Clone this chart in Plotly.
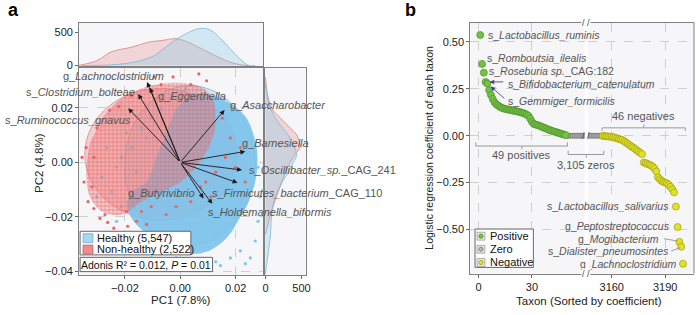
import plotly.graph_objects as go

W, H = 700, 315
def fx(p): return p / W
def fy(p): return 1 - p / H

FONT = "Liberation Sans, Arial, Helvetica, sans-serif"
TXT = "#555555"
BLUE = "#7ec4ea"
RED = "#ec6262"

# ================= Panel a : PCoA =================
group_names = ["Healthy (5,547)", "Non-healthy (2,522)"]
adonis_text = "Adonis R² = 0.012, <i>P</i> = 0.01"

# outline of the dense core of the Healthy cloud (PC1, PC2)
healthy_core_pc1 = [0.0038, 0.0110, 0.0181, 0.0235, 0.0263, 0.0278, 0.0274, 0.0253, 0.0217, 0.0174, 0.0117,
                    0.0056, -0.0015, -0.0076, -0.0133, -0.0176, -0.0194, -0.0176, -0.0122, -0.0087, -0.0051, -0.0015]
healthy_core_pc2 = [0.0252, 0.0245, 0.0216, 0.0169, 0.0108, 0.0036, -0.0054, -0.0126, -0.0198, -0.0270, -0.0317,
                    -0.0335, -0.0324, -0.0288, -0.0252, -0.0205, -0.0155, -0.0108, -0.0072, 0.0018, 0.0108, 0.0198]
# outline of the dense region of Non-healthy points
nonhealthy_core_pc1 = [-0.0283, -0.0212, -0.0122, -0.0015, 0.0074, 0.0117, 0.0128, 0.0103, 0.0056, 0.0002,
                       -0.0069, -0.0140, -0.0212, -0.0283, -0.0326, -0.0340, -0.0326]
nonhealthy_core_pc2 = [0.0162, 0.0234, 0.0277, 0.0292, 0.0277, 0.0234, 0.0144, 0.0054, -0.0018, -0.0072,
                       -0.0108, -0.0144, -0.0191, -0.0180, -0.0126, -0.0036, 0.0072]

# individual (sparser) samples
healthy_pts_pc1 = [0.0253, 0.0217, 0.0181, 0.0128, 0.0092, 0.0056, 0.0020, -0.0015, -0.0051, -0.0105, -0.0140,
                   0.0271, 0.0281, 0.0288, 0.0281, -0.0212, -0.0248, -0.0283, -0.0301, -0.0230, -0.0183, -0.0147,
                   -0.0105, 0.0074, 0.0145, 0.0235, -0.0105, -0.0140, -0.0069, -0.0033, -0.0176, -0.0122, -0.0212,
                   -0.0230, -0.0158, 0.0002, -0.0087, -0.0194, -0.0265, 0.0020]
healthy_pts_pc2 = [-0.0350, -0.0324, -0.0350, -0.0364, -0.0371, -0.0360, -0.0371, -0.0350, -0.0335, -0.0306, -0.0281,
                   -0.0288, -0.0216, -0.0126, -0.0018, -0.0162, -0.0108, -0.0054, -0.0126, -0.0216, -0.0270, -0.0324,
                   -0.0350, -0.0386, -0.0378, -0.0371, 0.0162, 0.0126, 0.0198, 0.0234, 0.0054, 0.0090, 0.0018,
                   -0.0018, -0.0036, 0.0252, 0.0234, 0.0108, 0.0054, 0.0270]
nonhealthy_pts_pc1 = [-0.0026, 0.0095, 0.0038, -0.0069, 0.0067, -0.0094, -0.0176, -0.0222, -0.0255, -0.0301, -0.0340,
                      -0.0355, -0.0312, -0.0348, -0.0319, -0.0333, -0.0312, -0.0290, -0.0262, -0.0240, -0.0219, -0.0190,
                      -0.0272, -0.0140, -0.0105, -0.0158, -0.0194, 0.0092, 0.0128, 0.0163, 0.0181, 0.0152, 0.0199,
                      0.0110, 0.0038, -0.0015, -0.0051, 0.0074, 0.0217, 0.0235, -0.0176, -0.0122]
nonhealthy_pts_pc2 = [0.0313, 0.0299, 0.0285, 0.0285, 0.0324, 0.0313, 0.0245, 0.0205, 0.0191, 0.0126, 0.0054,
                      0.0018, 0.0018, -0.0072, -0.0090, -0.0144, -0.0169, -0.0205, -0.0220, -0.0241, -0.0263, -0.0234,
                      -0.0191, -0.0180, -0.0162, -0.0216, -0.0180, -0.0072, -0.0036, 0.0018, 0.0090, 0.0162, -0.0018,
                      -0.0126, -0.0144, -0.0162, -0.0191, -0.0090, 0.0054, -0.0072, -0.0270, -0.0227]

# 95% ellipses: centre and half-axes (Healthy, Non-healthy)
ell_cx = [0.0035, -0.0070]
ell_cy = [-0.0011, 0.0030]
ell_rx = [0.0236, 0.0275]
ell_ry = [0.0292, 0.0241]

# marginal densities (counts)
top_h_pc1 = [-0.0355, -0.0255, -0.0176, -0.0099, -0.0063, -0.0015, 0.0032, 0.0062, 0.0092, 0.0116, 0.0151, 0.0187, 0.0223, 0.0246, 0.0270]
top_h_cnt = [0, 10, 45, 138, 245, 393, 500, 550, 555, 515, 382, 221, 74, 5, 0]
top_nh_pc1 = [-0.0372, -0.0301, -0.0254, -0.0230, -0.0182, -0.0111, -0.0063, -0.0015, 0.0032, 0.0080, 0.0128, 0.0175, 0.0223, 0.0246]
top_nh_cnt = [0, 74, 197, 231, 270, 353, 378, 403, 344, 245, 147, 59, 10, 0]
right_h_pc2 = [0.0288, 0.0228, 0.0192, 0.0150, 0.0114, 0.0078, 0.0042, 0.0024, 0.0, -0.0036, -0.0072, -0.0120, -0.0168, -0.0216, -0.0264, -0.0324, -0.0372, -0.0410]
right_h_cnt = [0, 35, 79, 167, 276, 364, 421, 430, 386, 320, 232, 145, 101, 79, 70, 43, 17, 0]
right_nh_pc2 = [0.0312, 0.0240, 0.0192, 0.0162, 0.0126, 0.0102, 0.0072, 0.0054, 0.0036, 0.0, -0.0036, -0.0084, -0.0132, -0.0180, -0.0228, -0.0263]
right_nh_cnt = [0, 35, 101, 210, 342, 430, 474, 480, 430, 342, 276, 210, 145, 79, 35, 0]

# biplot loadings
arrow_taxa = ["g_<i>Lachnoclostridium</i>", "s_<i>Clostridium_bolteae</i>", "g_<i>Eggerthella</i>",
              "s_<i>Ruminococcus_gnavus</i>", "g_<i>Asaccharobacter</i>", "g_<i>Barnesiella</i>",
              "s_<i>Oscillibacter_sp.</i>_CAG_241", "s_<i>Firmicutes_bacterium</i>_CAG_110",
              "g_<i>Butyrivibrio</i>", "s_<i>Holdemanella_biformis</i>"]
arrow_pc1 = [-0.0120, -0.0152, -0.0110, -0.0188, 0.0160, 0.0235, 0.0223, 0.0207, 0.0084, 0.0116]
arrow_pc2 = [0.0294, 0.0250, 0.0274, 0.0198, 0.0192, 0.0040, -0.0028, -0.0075, -0.0132, -0.0152]
label_pc1 = [-0.0052, -0.0158, -0.0087, -0.0170, 0.0173, 0.0217, 0.0241, 0.0107, 0.0062, 0.0092]
label_pc2 = [0.0318, 0.0258, 0.0244, 0.0156, 0.0210, 0.0070, -0.0028, -0.0111, -0.0111, -0.0180]
label_anchor = ["right", "right", "left", "right", "left", "left", "left", "left", "right", "left"]

# ================= Panel b : logistic regression =================
pos_coef = [0.537, 0.383, 0.336, 0.287, 0.278, 0.243, 0.217, 0.196, 0.179, 0.168, 0.161, 0.154, 0.149, 0.146,
            0.143, 0.141, 0.139, 0.137, 0.135, 0.133, 0.131, 0.129, 0.127, 0.124, 0.121, 0.118, 0.113, 0.106,
            0.092, 0.075, 0.063, 0.060, 0.057, 0.054, 0.050, 0.046, 0.042, 0.038, 0.034, 0.030, 0.027, 0.024,
            0.021, 0.018, 0.015, 0.012, 0.009, 0.006, 0.003]
N_ZERO = 3105
neg_coef = [-0.001, -0.002, -0.003, -0.004, -0.005, -0.006, -0.008, -0.011, -0.014, -0.017, -0.020, -0.023,
            -0.030, -0.037, -0.043, -0.050, -0.057, -0.063, -0.070, -0.077, -0.084, -0.091, -0.098, -0.143,
            -0.146, -0.150, -0.154, -0.158, -0.165, -0.175, -0.190, -0.222, -0.232, -0.241, -0.246, -0.250,
            -0.254, -0.262, -0.272, -0.286, -0.302, -0.378, -0.487, -0.566, -0.592, -0.683]
pos_rank = list(range(1, len(pos_coef) + 1))
zero_rank = list(range(len(pos_coef) + 1, len(pos_coef) + N_ZERO + 1))
zero_coef = [0.0] * N_ZERO
neg_rank = list(range(len(pos_coef) + N_ZERO + 1, len(pos_coef) + N_ZERO + len(neg_coef) + 1))

pos_labels = ["s_<i>Lactobacillus_ruminis</i>", "s_<i>Romboutsia_ilealis</i>", "s_<i>Roseburia sp.</i>_CAG:182",
              "s_<i>Bifidobacterium_catenulatum</i>", "s_<i>Gemmiger_formicilis</i>"]
pos_label_x = [4.1, 3.9, 5.0, 15.2, 15.7]
pos_label_y = [0.537, 0.412, 0.344, 0.275, 0.185]
neg_labels = ["s_<i>Lactobacillus_salivarius</i>", "g_<i>Peptostreptococcus</i>", "g_<i>Mogibacterium</i>",
              "s_<i>Dialister_pneumosintes</i>", "g_<i>Lachnoclostridium</i>"]
neg_label_x = [3193.0, 3193.9, 3187.9, 3193.0, 3197.6]
neg_label_y = [-0.373, -0.482, -0.549, -0.616, -0.683]
class_names = ["Positive", "Zero", "Negative"]

# ================= Build figure =================
fig = go.Figure()

# --- Panel a scatter ---
fig.add_trace(go.Scatter(x=healthy_core_pc1, y=healthy_core_pc2, mode="lines", fill="toself",
                         fillcolor="rgba(122,194,234,0.88)", line=dict(width=0, shape="spline"),
                         xaxis="x", yaxis="y", hoverinfo="skip", showlegend=False))
fig.add_trace(go.Scatter(x=healthy_pts_pc1, y=healthy_pts_pc2, mode="markers",
                         marker=dict(size=3.2, color=BLUE), xaxis="x", yaxis="y", hoverinfo="skip", showlegend=False))
fig.add_trace(go.Scatter(x=nonhealthy_core_pc1, y=nonhealthy_core_pc2, mode="lines", fill="toself",
                         fillcolor="rgba(0,0,0,0)",
                         fillpattern=dict(shape=".", size=4, solidity=0.68, fgcolor=RED,
                                          bgcolor="rgba(236,120,120,0.28)"),
                         line=dict(width=0, shape="spline"),
                         xaxis="x", yaxis="y", hoverinfo="skip", showlegend=False))
fig.add_trace(go.Scatter(x=nonhealthy_pts_pc1, y=nonhealthy_pts_pc2, mode="markers",
                         marker=dict(size=3.2, color=RED), xaxis="x", yaxis="y", hoverinfo="skip", showlegend=False))

# --- marginals ---
fig.add_trace(go.Scatter(x=top_nh_pc1, y=top_nh_cnt, mode="lines", fill="tozeroy",
                         line=dict(color="#d9817f", width=0.8, shape="spline"), fillcolor="rgba(228,150,150,0.35)",
                         xaxis="x2", yaxis="y2", hoverinfo="skip", showlegend=False))
fig.add_trace(go.Scatter(x=top_h_pc1, y=top_h_cnt, mode="lines", fill="tozeroy",
                         line=dict(color="#7cb9d6", width=0.8, shape="spline"), fillcolor="rgba(140,202,230,0.35)",
                         xaxis="x2", yaxis="y2", hoverinfo="skip", showlegend=False))
fig.add_trace(go.Scatter(x=right_nh_cnt, y=right_nh_pc2, mode="lines", fill="tozerox",
                         line=dict(color="#d9817f", width=0.8, shape="spline"), fillcolor="rgba(228,150,150,0.35)",
                         xaxis="x3", yaxis="y3", hoverinfo="skip", showlegend=False))
fig.add_trace(go.Scatter(x=right_h_cnt, y=right_h_pc2, mode="lines", fill="tozerox",
                         line=dict(color="#7cb9d6", width=0.8, shape="spline"), fillcolor="rgba(140,202,230,0.35)",
                         xaxis="x3", yaxis="y3", hoverinfo="skip", showlegend=False))

# --- Panel b points ---
zero_marker = dict(size=5, color="#b8b8b8", line=dict(color="#707070", width=0.7))
for xa in ["x4", "x5"]:
    fig.add_trace(go.Scatter(x=zero_rank, y=zero_coef, mode="markers", marker=zero_marker,
                             xaxis=xa, yaxis="y4", hoverinfo="skip", showlegend=False))
fig.add_trace(go.Scatter(x=pos_rank, y=pos_coef, mode="markers",
                         marker=dict(size=7, color="#74c244", line=dict(color="#4e8f2b", width=0.7)),
                         xaxis="x4", yaxis="y4", hoverinfo="skip", showlegend=False))
fig.add_trace(go.Scatter(x=neg_rank, y=neg_coef, mode="markers",
                         marker=dict(size=7, color="#e2e224", line=dict(color="#9c9c14", width=0.7)),
                         xaxis="x5", yaxis="y4", hoverinfo="skip", showlegend=False))

# ================= shapes =================
shapes = []
ell_fill = ["rgba(150,206,236,0.38)", "rgba(236,150,150,0.40)"]
ell_line = ["#6fb3da", "#df8686"]
for i in range(2):
    shapes.append(dict(type="circle", xref="x", yref="y", layer="below",
                       x0=ell_cx[i] - ell_rx[i], x1=ell_cx[i] + ell_rx[i],
                       y0=ell_cy[i] - ell_ry[i], y1=ell_cy[i] + ell_ry[i],
                       fillcolor=ell_fill[i], line=dict(color=ell_line[i], width=0.8)))

# panel a legend
shapes.append(dict(type="rect", xref="paper", yref="paper", x0=fx(78), x1=fx(190), y0=fy(259), y1=fy(235),
                   fillcolor="white", line=dict(color="#666", width=1)))
shapes.append(dict(type="rect", xref="paper", yref="paper", x0=fx(81), x1=fx(91), y0=fy(246.5), y1=fy(237.5),
                   fillcolor="#a9d6f0", line=dict(color="#6aaed6", width=0.8)))
shapes.append(dict(type="rect", xref="paper", yref="paper", x0=fx(81), x1=fx(91), y0=fy(258), y1=fy(249),
                   fillcolor="#ee8d8d", line=dict(color="#cf5c5c", width=0.8)))
shapes.append(dict(type="rect", xref="paper", yref="paper", x0=fx(78), x1=fx(212), y0=fy(276), y1=fy(261.5),
                   fillcolor="white", line=dict(color="#666", width=1)))

# panel b right border
shapes.append(dict(type="line", xref="paper", yref="paper", x0=fx(699), x1=fx(699), y0=fy(278), y1=fy(23),
                   line=dict(color="#808080", width=1)))

# brackets
BR = dict(color="#9a9a9a", width=1)
shapes += [dict(type="line", xref="x4", yref="y4", x0=-1.5, x1=50, y0=-0.055, y1=-0.055, line=BR),
           dict(type="line", xref="x4", yref="y4", x0=-1.5, x1=-1.5, y0=-0.055, y1=-0.035, line=BR),
           dict(type="line", xref="x4", yref="y4", x0=50, x1=50, y0=-0.055, y1=-0.035, line=BR),
           dict(type="line", xref="x4", yref="y4", x0=24.4, x1=24.4, y0=-0.055, y1=-0.072, line=BR)]
shapes += [dict(type="line", xref="x5", yref="y4", x0=3154.6, x1=3201.3, y0=0.042, y1=0.042, line=BR),
           dict(type="line", xref="x5", yref="y4", x0=3154.6, x1=3154.6, y0=0.042, y1=0.026, line=BR),
           dict(type="line", xref="x5", yref="y4", x0=3201.3, x1=3201.3, y0=0.042, y1=0.026, line=BR),
           dict(type="line", xref="x5", yref="y4", x0=3178, x1=3178, y0=0.042, y1=0.059, line=BR)]
shapes += [dict(type="line", xref="paper", yref="y4", x0=fx(571.7), x1=fx(607.7), y0=-0.1, y1=-0.1, line=BR),
           dict(type="line", xref="paper", yref="y4", x0=fx(571.7), x1=fx(571.7), y0=-0.1, y1=-0.08, line=BR),
           dict(type="line", xref="paper", yref="y4", x0=fx(607.7), x1=fx(607.7), y0=-0.1, y1=-0.08, line=BR),
           dict(type="line", xref="paper", yref="y4", x0=fx(590), x1=fx(590), y0=-0.1, y1=-0.118, line=BR)]
shapes += [dict(type="line", xref="x5", yref="y4", x0=3189.4, x1=3197.2, y0=-0.549, y1=-0.562,
                line=dict(color="#888", width=0.8)),
           dict(type="line", xref="x5", yref="y4", x0=3193.4, x1=3198.4, y0=-0.614, y1=-0.597,
                line=dict(color="#888", width=0.8))]

# panel b legend
shapes.append(dict(type="rect", xref="paper", yref="paper", x0=fx(477.5), x1=fx(536.5), y0=fy(271.7), y1=fy(232.7),
                   fillcolor="white", line=dict(color="#666", width=1)))
leg_b_y = [240, 253.3, 266.7]
leg_b_fill = ["#74c244", "#b8b8b8", "#e2e224"]
leg_b_line = ["#4e8f2b", "#707070", "#9c9c14"]
for i in range(3):
    shapes.append(dict(type="rect", xref="paper", yref="paper", x0=fx(479.5), x1=fx(487.5),
                       y0=fy(leg_b_y[i] + 4), y1=fy(leg_b_y[i] - 4), fillcolor="#e9e9e9",
                       line=dict(color="#9a9a9a", width=0.8)))
    shapes.append(dict(type="circle", xref="paper", yref="paper", x0=fx(481.3), x1=fx(485.7),
                       y0=fy(leg_b_y[i] + 2.2), y1=fy(leg_b_y[i] - 2.2), fillcolor=leg_b_fill[i],
                       line=dict(color=leg_b_line[i], width=0.7)))

# ================= annotations =================
ann = []
TF = dict(family=FONT, size=11, color=TXT)
TFB = dict(family=FONT, size=10.5, color=TXT)
def paper_text(x, y, text, font, xanchor="center", yanchor="middle", **kw):
    d = dict(x=fx(x), y=fy(y), xref="paper", yref="paper", text=text, showarrow=False,
             xanchor=xanchor, yanchor=yanchor, font=font)
    d.update(kw)
    return d

for i in range(len(arrow_taxa)):
    ann.append(dict(x=arrow_pc1[i], y=arrow_pc2[i], xref="x", yref="y", ax=0, ay=0, axref="x", ayref="y",
                    text="", showarrow=True, arrowhead=2, arrowsize=1.1, arrowwidth=0.9, arrowcolor="#1a1a1a"))
for i in range(len(arrow_taxa)):
    ann.append(dict(x=label_pc1[i], y=label_pc2[i], xref="x", yref="y", text=arrow_taxa[i], showarrow=False,
                    xanchor=label_anchor[i], yanchor="middle", font=TF))

DARK = dict(family=FONT, size=11, color="#111")
ann.append(paper_text(93.5, 242, group_names[0], DARK, xanchor="left"))
ann.append(paper_text(93.5, 253.5, group_names[1], DARK, xanchor="left"))
ann.append(paper_text(145, 268.8, adonis_text, dict(family=FONT, size=10.5, color="#111")))
for i in range(3):
    ann.append(paper_text(491, leg_b_y[i], class_names[i], DARK, xanchor="left"))

# axis titles
TT = dict(family=FONT, size=11.5, color="#222")
ann.append(paper_text(180, 305, "PC1 (7.8%)", TT))
ann.append(paper_text(37, 166, "PC2 (4.8%)", TT, textangle=-90))
ann.append(paper_text(593, 306, "Taxon (Sorted by coefficient)", TT))
ann.append(paper_text(431.5, 150.5, "Logistic regression coefficient of each taxon",
                      dict(family=FONT, size=10.5, color="#222"), textangle=-90))

# panel letters
ann.append(paper_text(3, 10, "<b>a</b>", dict(family=FONT, size=18, color="#000"), xanchor="left"))
ann.append(paper_text(405, 10, "<b>b</b>", dict(family=FONT, size=18, color="#000"), xanchor="left"))

# panel b labels
for i in range(len(pos_labels)):
    ann.append(dict(x=pos_label_x[i], y=pos_label_y[i], xref="x4", yref="y4", text=pos_labels[i],
                    showarrow=False, xanchor="left", yanchor="middle", font=TFB))
for i in range(len(neg_labels)):
    ann.append(dict(x=neg_label_x[i], y=neg_label_y[i], xref="x5", yref="y4", text=neg_labels[i],
                    showarrow=False, xanchor="right", yanchor="middle", font=TFB))
ann.append(dict(x=6.3, y=0.287, xref="x4", yref="y4", ax=15, ay=0, text="", showarrow=True,
                arrowhead=2, arrowsize=1, arrowwidth=0.9, arrowcolor="#4a3c9c"))
ann.append(dict(x=6.9, y=0.262, xref="x4", yref="y4", ax=15, ay=13, text="", showarrow=True,
                arrowhead=2, arrowsize=1, arrowwidth=0.9, arrowcolor="#4a3c9c"))

# bracket texts
ann.append(dict(x=24.4, y=-0.105, xref="x4", yref="y4", text="49 positives", showarrow=False,
                xanchor="center", yanchor="middle", font=TF))
ann.append(dict(x=3178, y=0.107, xref="x5", yref="y4", text="46 negatives", showarrow=False,
                xanchor="center", yanchor="middle", font=TF))
ann.append(dict(x=fx(590), y=-0.157, xref="paper", yref="y4", text="3,105 zeros", showarrow=False,
                xanchor="center", yanchor="middle", font=TF))

# axis break marks
BRK = dict(family=FONT, size=9, color="#444")
for yy in [23, 278]:
    ann.append(paper_text(590, yy, "/ /", BRK, bgcolor="white", borderpad=0))
ann.append(dict(x=fx(590), y=0.0, xref="paper", yref="y4", text="/ /", showarrow=False,
                xanchor="center", yanchor="middle", borderpad=0, font=BRK))

# ================= axes =================
GRID = dict(showgrid=True, gridcolor="#cfcfcf", griddash="dash", gridwidth=0.8, zeroline=False)
LINE = dict(showline=True, linecolor="#808080", linewidth=1, mirror=True)
TICK = dict(ticks="outside", ticklen=3, tickcolor="#666", tickfont=dict(family=FONT, size=11, color="#222"))
NOGRID = dict(showgrid=False, zeroline=False)

XR = [-0.03654, 0.02989]
YR = [-0.0411, 0.0346]

fig.update_layout(
    width=W, height=H, autosize=False,
    margin=dict(l=0, r=0, t=0, b=0),
    paper_bgcolor="white", plot_bgcolor="#f6f6f9",
    font=dict(family=FONT),
    showlegend=False,
    xaxis=dict(domain=[fx(77), fx(263)], range=XR, anchor="y", tickvals=[-0.02, 0, 0.02], tickformat=".2f",
               **GRID, **LINE, **TICK),
    yaxis=dict(domain=[fy(279), fy(69)], range=YR, anchor="x", tickvals=[-0.04, -0.02, 0, 0.02], tickformat=".2f",
               **GRID, **LINE, **TICK),
    xaxis2=dict(domain=[fx(77), fx(263)], range=XR, anchor="y2", showticklabels=False, ticks="", **NOGRID, **LINE),
    yaxis2=dict(domain=[fy(67.5), fy(23)], range=[-12, 643], anchor="x2", tickvals=[0, 500], **NOGRID, **LINE, **TICK),
    xaxis3=dict(domain=[fx(265), fx(306)], range=[-7, 555], anchor="y3", tickvals=[0, 500], **NOGRID, **LINE, **TICK),
    yaxis3=dict(domain=[fy(279), fy(69)], range=YR, anchor="x3", showticklabels=False, ticks="", **NOGRID, **LINE),
    xaxis4=dict(domain=[fx(472.7), fx(588.3)], range=[-4.6, 59.6], anchor="y4", tickvals=[0, 30],
                **GRID, **LINE, **TICK),
    xaxis5=dict(domain=[fx(592), fx(699)], range=[3146.8, 3206.2], anchor="y4", tickvals=[3160, 3190],
                **GRID, **LINE, **TICK),
    yaxis4=dict(domain=[fy(278), fy(23)], range=[-0.735, 0.603], anchor="x4",
                tickvals=[-0.5, -0.25, 0, 0.25, 0.5], tickformat=".2f",
                showline=True, linecolor="#808080", linewidth=1, mirror=False, **GRID, **TICK),
    shapes=shapes,
    annotations=ann,
)

fig.write_html("out.html", config={"displayModeBar": False},
               post_script="document.body.style.margin='0px';document.body.style.overflow='hidden';")
